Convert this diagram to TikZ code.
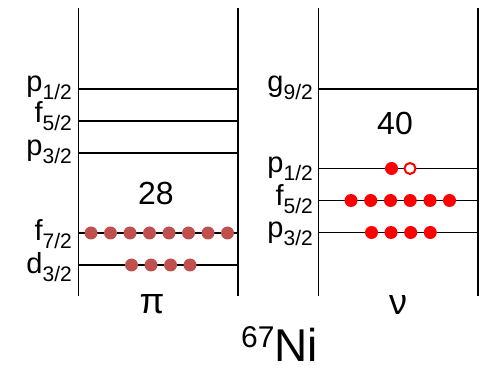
\documentclass[tikz,border=0pt]{standalone}
\usepackage{fontspec}
\setmainfont{Liberation Sans}
\definecolor{pdot}{HTML}{C0504D}
\definecolor{ndot}{HTML}{FF0000}
\newcommand{\lvl}[2]{{\fontsize{29}{29}\selectfont #1}\raisebox{-8pt}{\fontsize{21}{21}\selectfont #2}}
\begin{document}
\begin{tikzpicture}[x=1pt,y=-1pt,
  wall/.style={line width=1.5pt},
  lev/.style={line width=1.3pt},
  lab/.style={anchor=base east,inner sep=0pt},
  pd/.style={circle,fill=pdot,inner sep=0pt,minimum size=13pt},
  nd/.style={circle,fill=ndot,inner sep=0pt,minimum size=13pt},
  nh/.style={circle,draw=ndot,line width=2pt,fill=white,inner sep=0pt,minimum size=11pt},
  big/.style={anchor=base,inner sep=0pt,font=\fontsize{32}{32}\selectfont}]
\useasboundingbox (0,0) rectangle (479,371);
% walls
\coordinate (LT1) at (78.5,8); \coordinate (LB1) at (78.5,296);
\coordinate (LT2) at (238,8); \coordinate (LB2) at (238,296);
\coordinate (RT1) at (318.5,8); \coordinate (RB1) at (318.5,296);
\coordinate (RT2) at (478,8); \coordinate (RB2) at (478,296);
\draw[wall] (LT1) -- (LB1);
\draw[wall] (LT2) -- (LB2);
\draw[wall] (RT1) -- (RB1);
\draw[wall] (RT2) -- (RB2);
% proton levels
\foreach \n/\y in {a/89,b/121,c/153,d/233,e/265}{
  \coordinate (pl\n) at (78.5,\y); \coordinate (pr\n) at (238,\y);
  \draw[lev] (pl\n) -- (pr\n);}
\node[lab] (lp1) at (72,91.5) {\lvl{p}{1/2}};
\node[lab] (lp2) at (72,122.5) {\lvl{f}{5/2}};
\node[lab] (lp3) at (72,155.5) {\lvl{p}{3/2}};
\node[lab] (lp4) at (72,241) {\lvl{f}{7/2}};
\node[lab] (lp5) at (72,274) {\lvl{d}{3/2}};
\node[big] (n28) at (156,205) {28};
\foreach \i/\x in {1/91,2/110.5,3/130,4/149.5,5/169,6/188.5,7/208,8/227.5}
  \node[pd] (pf\i) at (\x,233) {};
\foreach \i/\x in {1/131.5,2/151,3/170.5,4/190}
  \node[pd] (pd\i) at (\x,265) {};
% neutron levels
\foreach \n/\y in {a/89,b/168.5,c/200.5,d/232.5}{
  \coordinate (nl\n) at (318.5,\y); \coordinate (nr\n) at (478,\y);
  \draw[lev] (nl\n) -- (nr\n);}
\node[lab] (ln1) at (313,91.5) {\lvl{g}{9/2}};
\node[lab] (ln2) at (313,172.5) {\lvl{p}{1/2}};
\node[lab] (ln3) at (313,205.5) {\lvl{f}{5/2}};
\node[lab] (ln4) at (313,237.5) {\lvl{p}{3/2}};
\node[big] (n40) at (395,135) {40};
\node[nd] (np1) at (391.5,168.5) {};
\node[nh] (np2) at (410,168.5) {};
\foreach \i/\x in {1/351,2/370.7,3/390.5,4/410.2,5/430,6/449.5}
  \node[nd] (nf\i) at (\x,200.5) {};
\foreach \i/\x in {1/371.5,2/391,3/410.7,4/430.3}
  \node[nd] (npp\i) at (\x,232.5) {};
% bottom labels
\node[anchor=base,inner sep=0pt,font=\fontsize{36}{36}\selectfont] (pi) at (152,313.5) {π};
\node[anchor=base,inner sep=0pt,font=\fontsize{36}{36}\selectfont] (nu) at (398,314) {ν};
\node[anchor=base west,inner sep=0pt] (ni) at (241,361) {\raisebox{14pt}{\fontsize{30}{30}\selectfont 67}\fontsize{46}{46}\selectfont Ni};
\end{tikzpicture}
\end{document}
